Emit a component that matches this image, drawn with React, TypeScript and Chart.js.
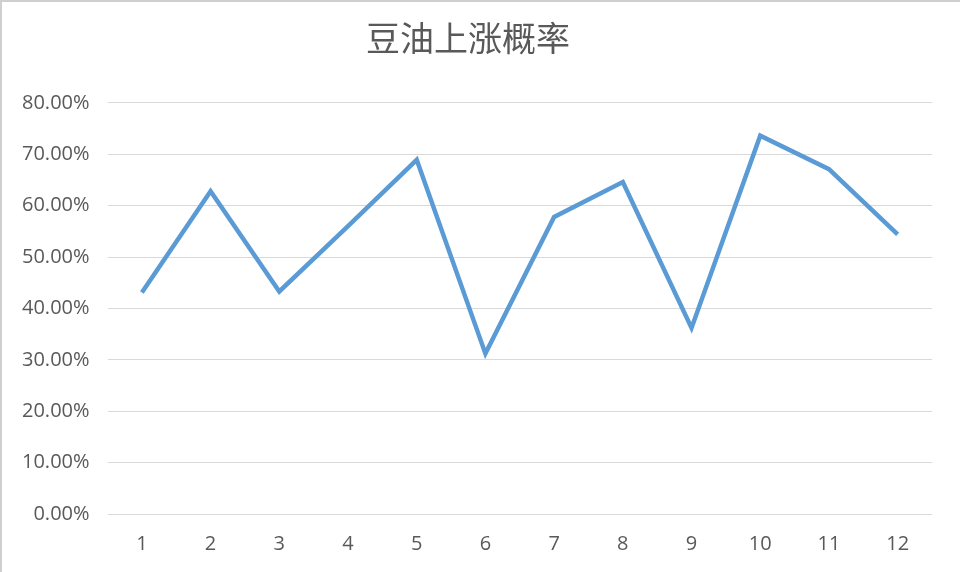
import React, { useEffect, useRef } from "react"
import { Chart, ChartConfiguration, registerables } from "chart.js"

Chart.register(...registerables)

const months = ["1", "2", "3", "4", "5", "6", "7", "8", "9", "10", "11", "12"]
// 上涨概率 (%)
const riseProbability = [43.1, 62.8, 43.3, 56.0, 68.9, 31.2, 57.8, 64.6, 36.2, 73.6, 67.1, 54.4]
const yTicks = { min: 0, max: 80, step: 10 }

export default function App() {
	const chartRef = useRef<HTMLCanvasElement | null>(null)
	const chartInstance = useRef<Chart | null>(null)

	useEffect(() => {
		if (chartInstance.current) {
			chartInstance.current.destroy()
		}
		if (!chartRef.current) return
		const ctx = chartRef.current.getContext("2d")
		if (!ctx) return

		const config: ChartConfiguration = {
			type: "line",
			data: {
				labels: months,
				datasets: [
					{
						label: "豆油上涨概率",
						data: riseProbability,
						borderColor: "#5b9bd5",
						backgroundColor: "#5b9bd5",
						borderWidth: 4.5,
						pointRadius: 0,
						tension: 0,
						fill: false,
					},
				],
			},
			options: {
				animation: false,
				responsive: true,
				maintainAspectRatio: false,
				layout: { padding: { left: 2, right: 28, top: 10, bottom: 6 } },
				plugins: {
					legend: { display: false },
					tooltip: { enabled: false },
					title: {
						display: true,
						text: "豆油上涨概率",
						color: "#595959",
						font: { family: "'Noto Sans CJK SC', sans-serif", size: 34, weight: "normal" },
						padding: { top: 6, bottom: 44 },
					},
				},
				scales: {
					x: {
						offset: true,
						grid: { display: false },
						border: { display: false },
						ticks: {
							color: "#595959",
							font: { family: "'Open Sans', sans-serif", size: 20 },
							padding: 10,
						},
					},
					y: {
						min: yTicks.min,
						max: yTicks.max,
						grid: { color: "#d9d9d9", drawTicks: false, lineWidth: 1 },
						border: { display: false },
						ticks: {
							stepSize: yTicks.step,
							color: "#595959",
							font: { family: "'Open Sans', sans-serif", size: 20 },
							padding: 18,
							callback: (v) => Number(v).toFixed(2) + "%",
						},
					},
				},
			},
		}

		chartInstance.current = new Chart(ctx, config)

		return () => {
			if (chartInstance.current) {
				chartInstance.current.destroy()
				chartInstance.current = null
			}
		}
	}, [])

	return (
		<div
			style={{
				position: "fixed",
				left: 0,
				top: 0,
				width: 960,
				height: 572,
				boxSizing: "border-box",
				borderTop: "2px solid #cfcfcf",
				borderLeft: "2px solid #cfcfcf",
				background: "#ffffff",
			}}
		>
			<canvas ref={chartRef}></canvas>
		</div>
	)
}
